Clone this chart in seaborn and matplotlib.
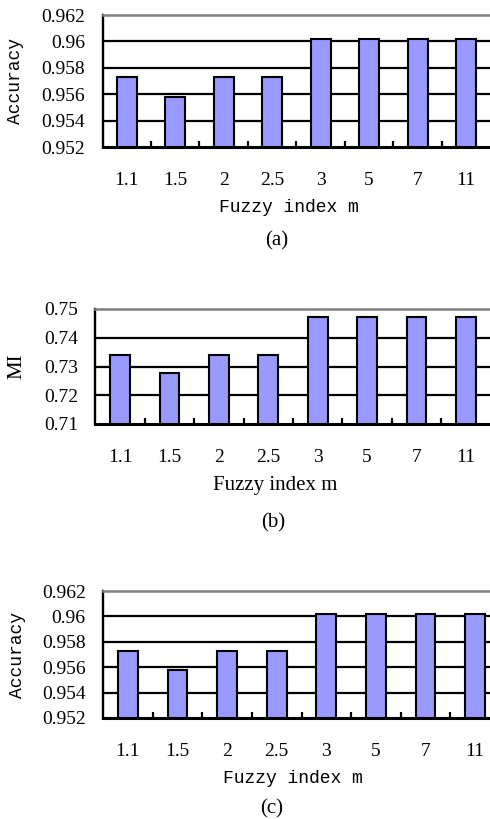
import matplotlib
matplotlib.use("Agg")
import matplotlib.pyplot as plt
import matplotlib.ticker as mticker
import seaborn as sns
import pandas as pd

# Fuzzy index m values (categorical axis)
fuzzy_m = ["1.1", "1.5", "2", "2.5", "3", "5", "7", "11"]

# Clustering accuracy for each fuzzy index
accuracy_a = [0.9573, 0.9558, 0.9573, 0.9573, 0.9602, 0.9602, 0.9602, 0.9602]
# Mutual information for each fuzzy index
mi_b = [0.7341, 0.7276, 0.7341, 0.7341, 0.7471, 0.7471, 0.7471, 0.7471]
# Accuracy (second experiment)
accuracy_c = [0.9573, 0.9558, 0.9573, 0.9573, 0.9602, 0.9602, 0.9602, 0.9602]

acc_ticks = [0.952, 0.954, 0.956, 0.958, 0.96, 0.962]
mi_ticks = [0.71, 0.72, 0.73, 0.74, 0.75]

sns.set_theme(style="white")
plt.rcParams["font.family"] = ["Liberation Serif", "DejaVu Serif"]

W, H = 490, 819
fig = plt.figure(figsize=(W / 100, H / 100), dpi=100)
fig.patch.set_facecolor("white")

SERIF = "Liberation Serif"
MONO = "Liberation Mono"
BAR_COLOR = "#9999FF"


def px_axes(left, right, top, bottom):
    return fig.add_axes([left / W, 1 - bottom / H, (right - left) / W, (bottom - top) / H])


def draw_panel(box, values, ticks, ylabel, ylabel_font, ylabel_size,
               xlabel_font, xlabel_size, ylabel_x, xlabel_pos, tag, tag_pos, width):
    left, right, top, bottom = box
    ax = px_axes(left, right, top, bottom)
    df = pd.DataFrame({"m": fuzzy_m, "v": values})
    sns.barplot(data=df, x="m", y="v", ax=ax, color=BAR_COLOR, saturation=1,
                edgecolor="black", linewidth=1.5, width=width, zorder=3)
    ax.set_xlim(-0.5, len(fuzzy_m) - 0.5)
    ax.set_ylim(ticks[0], ticks[-1])
    ax.set_yticks(ticks)
    ax.yaxis.set_major_formatter(mticker.FuncFormatter(lambda v, p: f"{v:g}"))

    # horizontal gridlines: black inside, grey at the top edge
    for t in ticks[1:-1]:
        ax.axhline(t, color="black", lw=1.6, zorder=1)
    ax.spines["top"].set_color("#808080")
    ax.spines["top"].set_linewidth(1.8)
    ax.spines["right"].set_visible(False)
    ax.spines["left"].set_color("black")
    ax.spines["left"].set_linewidth(1.7)
    ax.spines["bottom"].set_color("black")
    ax.spines["bottom"].set_linewidth(2.2)
    ax.spines["bottom"].set_zorder(5)

    # category separators as inward minor ticks
    ax.set_xticks([i + 0.5 for i in range(len(fuzzy_m) - 1)], minor=True)
    ax.tick_params(axis="x", which="minor", direction="in", length=4.5, width=1.6,
                   color="black", bottom=True, top=False)
    ax.tick_params(axis="x", which="major", length=0, pad=18, labelsize=14,
                   labelcolor="black")
    ax.tick_params(axis="y", which="major", length=0, pad=12.5, labelsize=14,
                   labelcolor="black")
    for lab in ax.get_xticklabels() + ax.get_yticklabels():
        lab.set_fontfamily(SERIF)

    ax.set_ylabel(ylabel, fontfamily=ylabel_font, fontsize=ylabel_size, color="black")
    ax.yaxis.label.set_va("center")
    ax.yaxis.set_label_coords((ylabel_x - left) / (right - left), 0.5)

    ax.set_xlabel("Fuzzy index m", fontfamily=xlabel_font, fontsize=xlabel_size,
                  color="black")
    ax.xaxis.label.set_va("baseline")
    xl_x, xl_y = xlabel_pos
    ax.xaxis.set_label_coords((xl_x - left) / (right - left),
                              (bottom - xl_y) / (bottom - top))

    fig.text(tag_pos[0] / W, 1 - tag_pos[1] / H, tag, ha="center", va="baseline",
             fontfamily=SERIF, fontsize=15, color="black")
    return ax


draw_panel((102.5, 490.3, 15, 147), accuracy_a, acc_ticks, "Accuracy", MONO, 13,
           MONO, 13, 16, (289, 212), "(a)", (277, 245), 0.41)
draw_panel((95.3, 490.7, 309, 424), mi_b, mi_ticks, "MI", SERIF, 15,
           SERIF, 15, 17, (275, 490), "(b)", (273, 527), 0.40)
draw_panel((103, 500, 591, 718), accuracy_c, acc_ticks, "Accuracy", MONO, 13,
           MONO, 13, 17, (293, 783), "(c)", (272, 813), 0.40)

fig.savefig("out.png", dpi=100, facecolor="white")
